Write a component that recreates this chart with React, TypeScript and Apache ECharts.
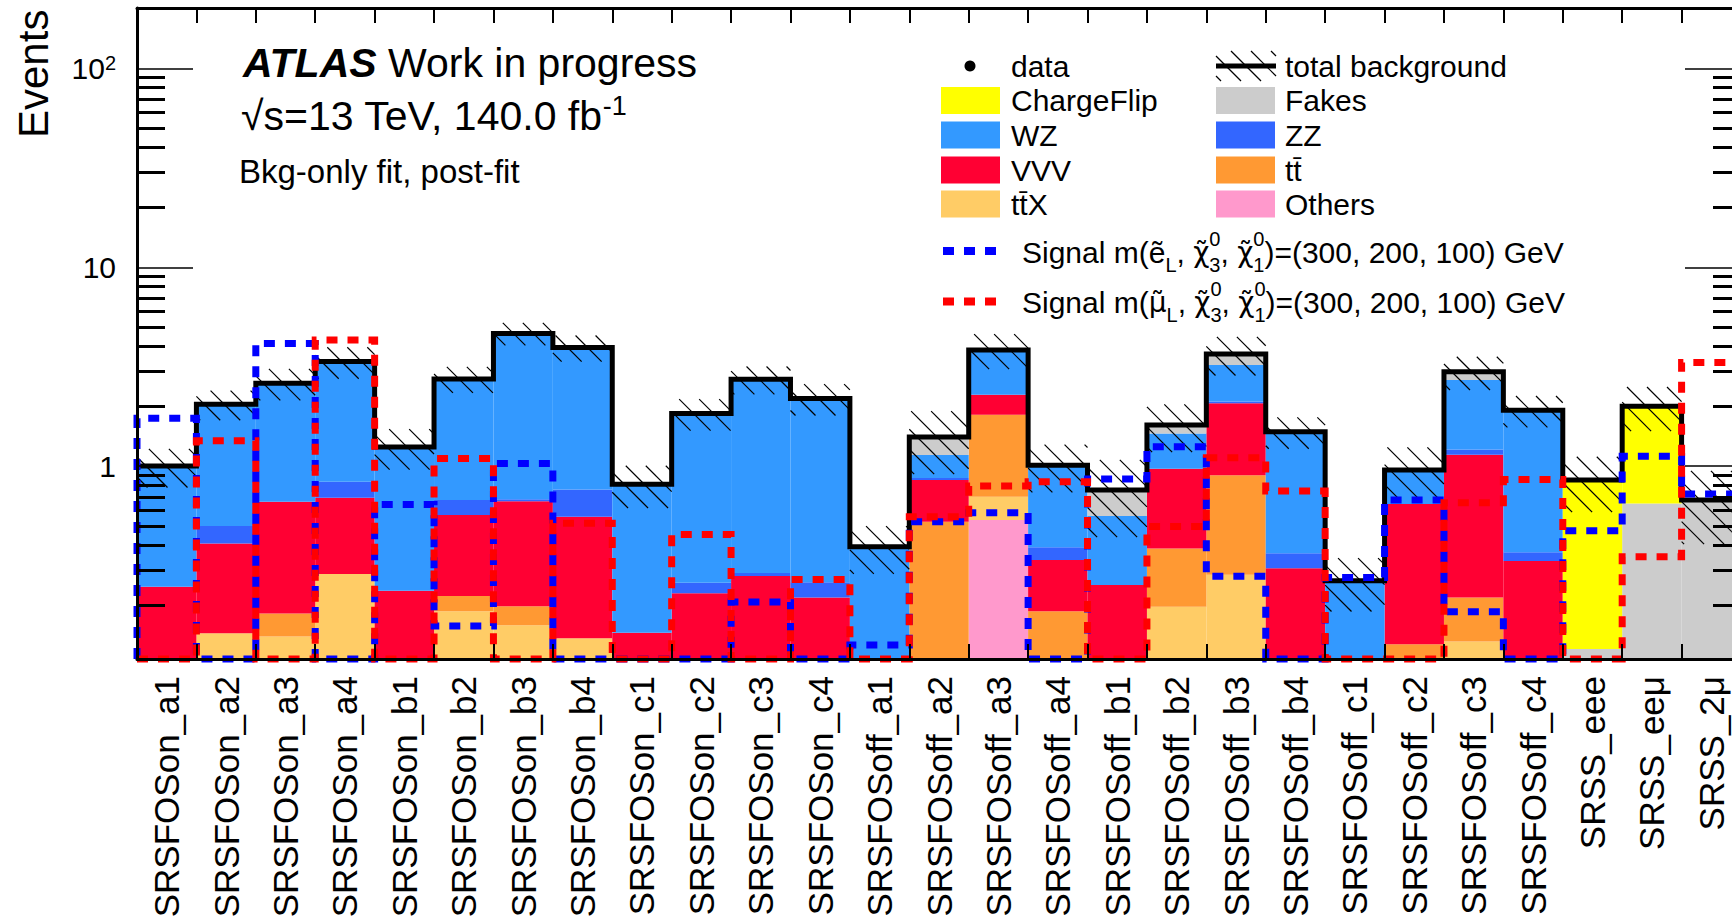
import React, { useEffect, useRef } from "react";
import * as echarts from "echarts";

const FONT = '"Liberation Sans", Arial, Helvetica, sans-serif';
const DJ = '"DejaVu Sans", sans-serif';

const categories = [
  "SRSFOSon_a1", "SRSFOSon_a2", "SRSFOSon_a3", "SRSFOSon_a4",
  "SRSFOSon_b1", "SRSFOSon_b2", "SRSFOSon_b3", "SRSFOSon_b4",
  "SRSFOSon_c1", "SRSFOSon_c2", "SRSFOSon_c3", "SRSFOSon_c4",
  "SRSFOSoff_a1", "SRSFOSoff_a2", "SRSFOSoff_a3", "SRSFOSoff_a4",
  "SRSFOSoff_b1", "SRSFOSoff_b2", "SRSFOSoff_b3", "SRSFOSoff_b4",
  "SRSFOSoff_c1", "SRSFOSoff_c2", "SRSFOSoff_c3", "SRSFOSoff_c4",
  "SRSS_eee", "SRSS_eeμ", "SRSS_2μ",
];

// post-fit background yields per region (stack order bottom -> top)
const others = [0, 0, 0, 0, 0, 0, 0, 0, 0, 0, 0, 0, 0, 0, 0.535, 0, 0, 0, 0, 0, 0, 0, 0, 0, 0, 0, 0];
const ttX = [0, 0.144, 0.139, 0.286, 0, 0.186, 0.158, 0.136, 0, 0, 0, 0, 0, 0, 0.166, 0, 0, 0.196, 0.284, 0, 0, 0, 0.131, 0, 0, 0, 0];
const ttbar = [0, 0, 0.042, 0, 0, 0.036, 0.039, 0, 0, 0, 0, 0, 0, 0.525, 1.11, 0.186, 0, 0.189, 0.616, 0, 0, 0.127, 0.087, 0, 0, 0, 0];
const vvv = [0.247, 0.264, 0.48, 0.407, 0.236, 0.345, 0.469, 0.42, 0.145, 0.229, 0.28, 0.218, 0, 0.325, 0.47, 0.151, 0.252, 0.585, 1.17, 0.306, 0, 0.517, 0.922, 0.333, 0, 0, 0];
const zz = [0, 0.091, 0, 0.141, 0, 0.107, 0.014, 0.207, 0, 0.03, 0.01, 0.042, 0, 0.02, 0, 0.053, 0, 0, 0.04, 0.058, 0, 0, 0.07, 0.035, 0, 0, 0];
const wz = [0.753, 1.55, 1.95, 2.52, 1.01, 2.07, 3.97, 3.18, 0.664, 1.58, 2.44, 1.93, 0.393, 0.266, 1.56, 0.62, 0.308, 0.49, 1.11, 1.126, 0.265, 0.311, 1.5, 1.54, 0, 0, 0];
const fakes = [0, 0, 0, 0, 0, 0, 0, 0, 0, 0, 0, 0, 0, 0.264, 0, 0, 0.197, 0.15, 0.44, 0, 0, 0, 0.27, 0, 0.12, 0.649, 0.675];
const chargeFlip = [0, 0, 0, 0, 0, 0, 0, 0, 0, 0, 0, 0, 0, 0, 0, 0, 0, 0, 0, 0, 0, 0, 0, 0, 0.73, 1.35, 0];

// relative total background uncertainty
const relUnc = [0.22, 0.17, 0.18, 0.18, 0.23, 0.15, 0.13, 0.15, 0.24, 0.18, 0.16, 0.18, 0.27, 0.35, 0.2, 0.27, 0.42, 0.27, 0.22, 0.18, 0.3, 0.3, 0.19, 0.18, 0.31, 0.25, 0.4];

// signal yields
const signalSelectron = [1.74, 0, 4.14, 0, 0.641, 0.157, 1.03, 0, 0, 0, 0.207, 0, 0.126, 0.525, 0.582, 0, 0.86, 1.25, 0.279, 0, 0.275, 0.675, 0.185, 0, 0.473, 1.12, 0.723];
const signalSmuon = [0, 1.34, 0, 4.31, 0, 1.09, 0, 0.515, 0, 0.453, 0, 0.269, 0, 0.556, 0.793, 0.834, 0, 0.496, 1.1, 0.749, 0, 0, 0.654, 0.857, 0, 0.35, 3.32];

const yMajorTicks = [1, 10, 100];
const yMinorTicks = [0.2, 0.3, 0.4, 0.5, 0.6, 0.7, 0.8, 0.9, 2, 3, 4, 5, 6, 7, 8, 9, 20, 30, 40, 50, 60, 70, 80, 90, 200];

const Y_MIN = 0.107;
const Y_MAX = 201.5;
const N = categories.length;

const COLORS = {
  others: "#ff99cc",
  ttX: "#ffcc66",
  ttbar: "#ff9933",
  vvv: "#ff0033",
  zz: "#3366ff",
  wz: "#3399ff",
  fakes: "#cccccc",
  chargeFlip: "#ffff00",
  selectron: "#0000ff",
  smuon: "#ff0000",
};

const processes = [
  { name: "Others", data: others, color: COLORS.others },
  { name: "ttX", data: ttX, color: COLORS.ttX },
  { name: "tt", data: ttbar, color: COLORS.ttbar },
  { name: "VVV", data: vvv, color: COLORS.vvv },
  { name: "ZZ", data: zz, color: COLORS.zz },
  { name: "WZ", data: wz, color: COLORS.wz },
  { name: "Fakes", data: fakes, color: COLORS.fakes },
  { name: "ChargeFlip", data: chargeFlip, color: COLORS.chargeFlip },
];

function hatchLines(x0: number, x1: number, yTop: number, yBot: number, s: number, style: any) {
  const out: any[] = [];
  const cMin = yTop - x1;
  const cMax = yBot - x0;
  const kStart = Math.ceil(cMin / s);
  const kEnd = Math.floor(cMax / s);
  for (let k = kStart; k <= kEnd; k++) {
    const c = k * s;
    const xa = Math.max(x0, yTop - c);
    const xb = Math.min(x1, yBot - c);
    if (xb - xa > 0.8) {
      out.push({ type: "line", shape: { x1: xa, y1: xa + c, x2: xb, y2: xb + c }, style });
    }
  }
  return out;
}

function buildOption() {
  let base = new Array(N).fill(0);
  const stackSeries = processes.map((p) => {
    const items: number[][] = [];
    p.data.forEach((v, i) => {
      if (v > 0) items.push([i, base[i] + v, base[i]]);
    });
    base = base.map((b, i) => b + p.data[i]);
    return {
      type: "custom",
      name: p.name,
      coordinateSystem: "cartesian2d",
      xAxisIndex: 0,
      yAxisIndex: 0,
      encode: { x: 0, y: 1 },
      data: items,
      z: 2,
      silent: true,
      renderItem: (params: any, api: any) => {
        const i = api.value(0);
        const top = api.value(1);
        const bottom = Math.max(api.value(2), Y_MIN);
        if (top <= Y_MIN) return null;
        const w = params.coordSys.width / N;
        const pt = api.coord([i, top]);
        const pb = api.coord([i, bottom]);
        return {
          type: "rect",
          shape: { x: pt[0] - w / 2, y: pt[1], width: w, height: pb[1] - pt[1] },
          style: { fill: p.color },
        };
      },
    };
  });
  const totals = base;

  const hatchSeries = {
    type: "custom",
    name: "total background band",
    coordinateSystem: "cartesian2d",
    encode: { x: 0, y: 1 },
    data: totals.map((t, i) => [i, t, relUnc[i]]),
    z: 3,
    silent: true,
    renderItem: (params: any, api: any) => {
      const i = api.value(0);
      const t = api.value(1);
      const e = api.value(2);
      const w = params.coordSys.width / N;
      const hi = api.coord([i, Math.min(t * (1 + e), Y_MAX)]);
      const lo = api.coord([i, Math.max(t * (1 - e), Y_MIN)]);
      const lines = hatchLines(hi[0] - w / 2, hi[0] + w / 2, hi[1], lo[1], 20, {
        stroke: "#000",
        lineWidth: 1.2,
      });
      return { type: "group", children: lines };
    },
  };

  const stepPoints = (api: any, w: number, values: number[]) => {
    const pts: number[][] = [];
    values.forEach((raw, i) => {
      const v = Math.max(raw, Y_MIN);
      const c = api.coord([i, v]);
      if (i === 0) pts.push([c[0] - w / 2, api.coord([i, Y_MIN])[1]]);
      pts.push([c[0] - w / 2, c[1]]);
      pts.push([c[0] + w / 2, c[1]]);
    });
    return pts;
  };

  const totalSeries = {
    type: "custom",
    name: "total background",
    coordinateSystem: "cartesian2d",
    encode: { x: 0, y: 1 },
    data: totals.map((t, i) => [i, t]),
    z: 4,
    silent: true,
    renderItem: (params: any, api: any) => {
      if (params.dataIndex !== 0) return null;
      const w = params.coordSys.width / N;
      const pts = stepPoints(api, w, totals).slice(1);
      return {
        type: "polyline",
        shape: { points: pts },
        style: { stroke: "#000", lineWidth: 5, fill: "none", lineJoin: "miter" },
      };
    },
  };

  const signalSeries = (name: string, values: number[], color: string, z: number) => ({
    type: "custom",
    name,
    coordinateSystem: "cartesian2d",
    encode: { x: 0, y: 1 },
    data: values.map((v, i) => [i, Math.max(v, Y_MIN)]),
    z,
    silent: true,
    renderItem: (params: any, api: any) => {
      if (params.dataIndex !== 0) return null;
      const w = params.coordSys.width / N;
      return {
        type: "polyline",
        shape: { points: stepPoints(api, w, values) },
        style: { stroke: color, lineWidth: 7, fill: "none", lineDash: [11, 10] },
      };
    },
  });

  const yAxisCommon = {
    type: "log",
    logBase: 10,
    min: Y_MIN,
    max: Y_MAX,
    splitLine: { show: false },
    z: 10,
  };

  const rows = [66, 100.5, 135, 170, 204];
  const legendText = (x: number, y: number, text: string) => ({
    type: "text",
    x,
    y,
    style: { text, fontSize: 30, fontFamily: FONT, fill: "#000", align: "left", verticalAlign: "middle" },
  });
  const swatch = (x: number, y: number, color: string) => ({
    type: "rect",
    shape: { x, y: y - 13.5, width: 59, height: 27 },
    style: { fill: color },
  });

  const sigRich = {
    sub: { fontSize: 20, fontFamily: FONT, fill: "#000", verticalAlign: "bottom", lineHeight: 20 },
    subz: { fontSize: 20, fontFamily: FONT, fill: "#000", verticalAlign: "bottom", lineHeight: 20, width: 0 },
    sup: { fontSize: 20, fontFamily: FONT, fill: "#000", verticalAlign: "top", lineHeight: 20 },
    g: { fontSize: 28, fontFamily: DJ, fill: "#000", lineHeight: 46 },
  };
  const sigText = (y: number, particle: string) => ({
    type: "text",
    x: 1022,
    y,
    style: {
      text: `Signal m(${particle}{sub|L}, {g|χ\u0303}{subz|3}{sup|0}, {g|χ\u0303}{subz|1}{sup|0})=(300, 200, 100) GeV`,
      rich: sigRich,
      fontSize: 30,
      fontFamily: FONT,
      fill: "#000",
      lineHeight: 46,
      align: "left",
      verticalAlign: "middle",
    },
  });

  const graphics: any[] = [
    {
      type: "text",
      x: 33,
      y: 138,
      rotation: Math.PI / 2,
      style: { text: "Events", fontSize: 42, fontFamily: FONT, fill: "#000", align: "left", verticalAlign: "middle" },
    },
    {
      type: "text",
      x: 243,
      y: 63,
      style: {
        text: "{b|ATLAS} Work in progress",
        rich: { b: { fontSize: 41, fontWeight: "bold", fontStyle: "italic", fontFamily: FONT, fill: "#000" } },
        fontSize: 41,
        fontFamily: FONT,
        fill: "#000",
        align: "left",
        verticalAlign: "middle",
      },
    },
    {
      type: "text",
      x: 241,
      y: 116,
      style: {
        text: "√s=13 TeV, 140.0 fb{sup|-1}",
        rich: { sup: { fontSize: 27, fontFamily: FONT, fill: "#000", verticalAlign: "top", lineHeight: 27 } },
        fontSize: 41,
        fontFamily: FONT,
        fill: "#000",
        lineHeight: 48,
        align: "left",
        verticalAlign: "middle",
      },
    },
    {
      type: "text",
      x: 239,
      y: 171,
      style: { text: "Bkg-only fit, post-fit", fontSize: 33, fontFamily: FONT, fill: "#000", align: "left", verticalAlign: "middle" },
    },
    // legend column 1
    { type: "circle", shape: { cx: 970, cy: rows[0], r: 5.5 }, style: { fill: "#000" } },
    legendText(1011, rows[0], "data"),
    swatch(941, rows[1], COLORS.chargeFlip),
    legendText(1011, rows[1], "ChargeFlip"),
    swatch(941, rows[2], COLORS.wz),
    legendText(1011, rows[2], "WZ"),
    swatch(941, rows[3], COLORS.vvv),
    legendText(1011, rows[3], "VVV"),
    swatch(941, rows[4], COLORS.ttX),
    legendText(1011, rows[4], "tt\u0304X"),
    // legend column 2
    {
      type: "group",
      children: hatchLines(1216, 1276, rows[0] - 15, rows[0] + 15, 20, { stroke: "#000", lineWidth: 1.2 }),
    },
    { type: "line", shape: { x1: 1216, y1: rows[0], x2: 1276, y2: rows[0] }, style: { stroke: "#000", lineWidth: 5 } },
    legendText(1285, rows[0], "total background"),
    swatch(1216, rows[1], COLORS.fakes),
    legendText(1285, rows[1], "Fakes"),
    swatch(1216, rows[2], COLORS.zz),
    legendText(1285, rows[2], "ZZ"),
    swatch(1216, rows[3], COLORS.ttbar),
    legendText(1285, rows[3], "tt\u0304"),
    swatch(1216, rows[4], COLORS.others),
    legendText(1285, rows[4], "Others"),
    // signals
    {
      type: "line",
      shape: { x1: 943, y1: 251, x2: 997, y2: 251 },
      style: { stroke: COLORS.selectron, lineWidth: 8, lineDash: [11, 10] },
    },
    sigText(252, "ẽ"),
    {
      type: "line",
      shape: { x1: 943, y1: 301.5, x2: 997, y2: 301.5 },
      style: { stroke: COLORS.smuon, lineWidth: 8, lineDash: [11, 10] },
    },
    sigText(302, "{g|μ\u0303}"),
  ];

  return {
    animation: false,
    backgroundColor: "#ffffff",
    grid: { left: 137, top: 8, width: 1604, height: 651, containLabel: false, outerBoundsMode: "none" },
    xAxis: [
      {
        type: "category",
        data: categories,
        position: "bottom",
        boundaryGap: true,
        axisLine: { show: true, lineStyle: { color: "#000", width: 3 } },
        axisTick: { show: true, inside: true, length: 15, interval: 0, alignWithLabel: false, lineStyle: { color: "#000", width: 2 } },
        axisLabel: { show: true, interval: 0, rotate: 90, margin: 17, fontSize: 35, fontFamily: FONT, color: "#000", hideOverlap: false },
        splitLine: { show: false },
        z: 10,
      },
      {
        type: "category",
        data: categories,
        position: "top",
        boundaryGap: true,
        axisLine: { show: true, lineStyle: { color: "#000", width: 3 } },
        axisTick: { show: true, inside: true, length: 15, interval: 0, alignWithLabel: false, lineStyle: { color: "#000", width: 2 } },
        axisLabel: { show: false },
        splitLine: { show: false },
        z: 10,
      },
    ],
    yAxis: [
      {
        ...yAxisCommon,
        position: "left",
        axisLine: { show: true, lineStyle: { color: "#000", width: 3 } },
        axisTick: { show: true, inside: true, length: 56, customValues: yMajorTicks, lineStyle: { color: "#000", width: 1.6 } },
        axisLabel: {
          show: true,
          customValues: yMajorTicks,
          margin: 21,
          fontSize: 30,
          fontFamily: FONT,
          color: "#000",
          formatter: (v: number) => {
            const r = Math.round(v);
            return r === 100 ? "10{sup|2}" : String(r);
          },
          rich: { sup: { fontSize: 20, fontFamily: FONT, color: "#000", verticalAlign: "top", lineHeight: 20 } },
        },
      },
      {
        ...yAxisCommon,
        position: "left",
        axisLine: { show: false },
        axisTick: { show: true, inside: true, length: 28, customValues: yMinorTicks, lineStyle: { color: "#000", width: 3 } },
        axisLabel: { show: false },
      },
      {
        ...yAxisCommon,
        position: "right",
        axisLine: { show: true, lineStyle: { color: "#000", width: 3 } },
        axisTick: { show: true, inside: true, length: 56, customValues: yMajorTicks, lineStyle: { color: "#000", width: 1.6 } },
        axisLabel: { show: false },
      },
      {
        ...yAxisCommon,
        position: "right",
        axisLine: { show: false },
        axisTick: { show: true, inside: true, length: 28, customValues: yMinorTicks, lineStyle: { color: "#000", width: 3 } },
        axisLabel: { show: false },
      },
    ],
    series: [
      ...stackSeries,
      hatchSeries,
      totalSeries,
      signalSeries("Signal selectron", signalSelectron, COLORS.selectron, 5),
      signalSeries("Signal smuon", signalSmuon, COLORS.smuon, 6),
    ],
    graphic: { elements: graphics.map((g) => ({ ...g, z: 20 })) },
  };
}

export default function App() {
  const ref = useRef<HTMLDivElement>(null);
  useEffect(() => {
    if (!ref.current) return;
    const chart = echarts.init(ref.current, null, { renderer: "svg" });
    chart.setOption(buildOption() as any);
    return () => chart.dispose();
  }, []);
  return (
    <div
      style={{
        position: "fixed",
        left: 0,
        top: 0,
        width: 1732,
        height: 921,
        overflow: "hidden",
        background: "#fff",
      }}
    >
      <div ref={ref} style={{ width: 1800, height: 921 }} />
    </div>
  );
}
